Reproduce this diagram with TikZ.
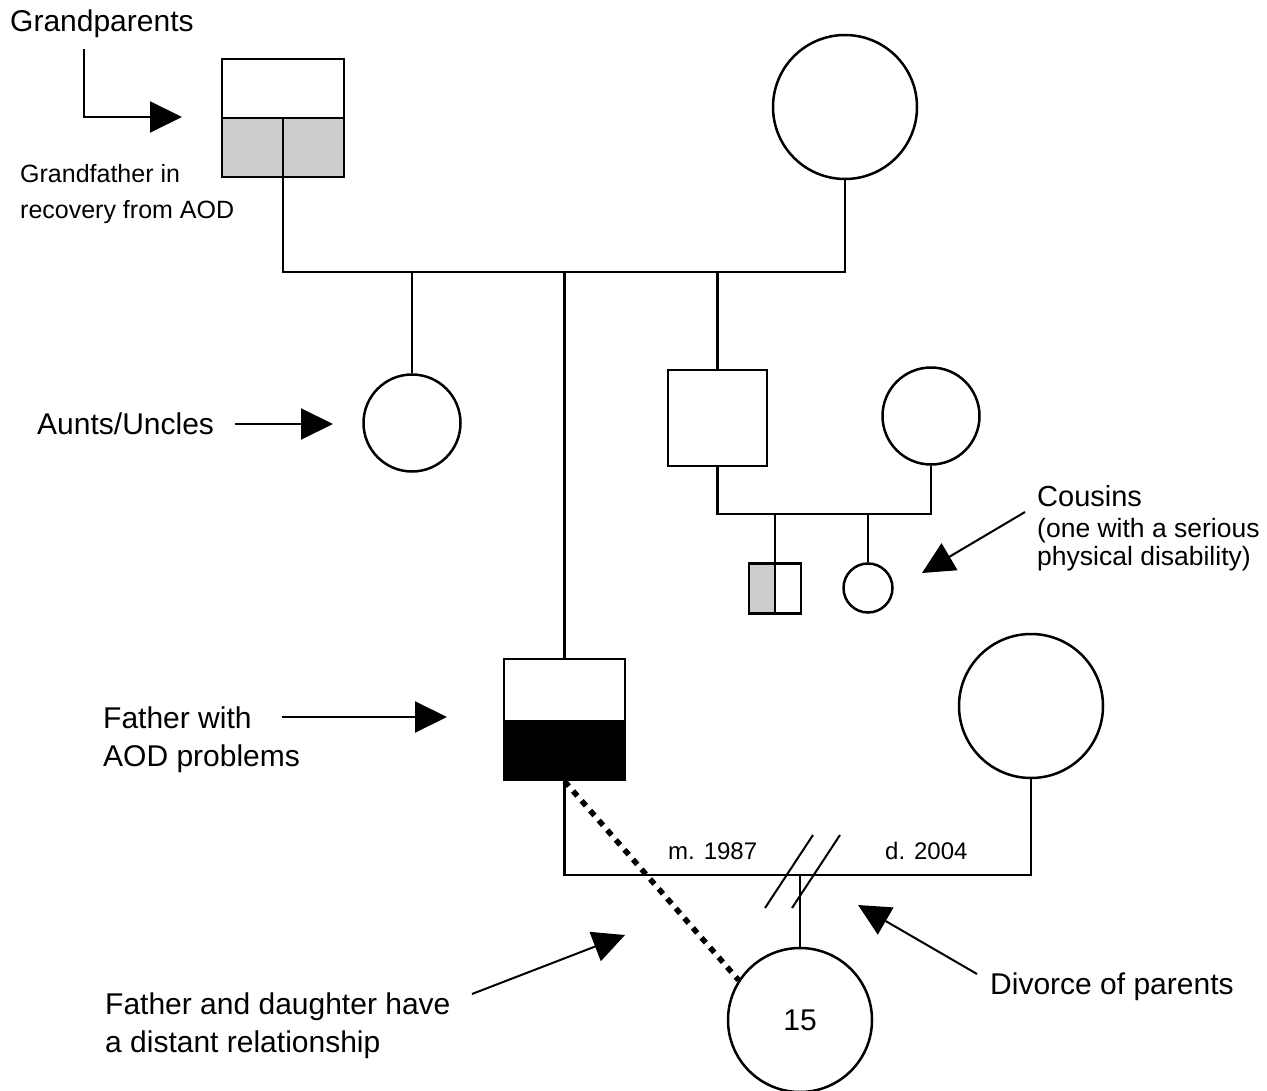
\documentclass[tikz,border=0pt]{standalone}
\usepackage{fontspec}
\setmainfont{Liberation Sans}
\usetikzlibrary{arrows.meta}
\begin{document}
\begin{tikzpicture}[x=1pt,y=-1pt,
  person/.style={draw, line width=2.5pt, inner sep=0pt},
  conn/.style={line width=2.5pt},
  slash/.style={line width=2pt},
  pointer/.style={line width=2pt, -{Triangle[length=32pt,width=31pt]}},
  distant/.style={line width=5.5pt, dash pattern=on 6.5pt off 6.5pt},
  big/.style={anchor=base west, inner sep=0pt, font=\fontsize{30}{36}\selectfont},
  small/.style={anchor=base west, inner sep=0pt, font=\fontsize{25}{30}\selectfont},
  tiny/.style={anchor=base west, inner sep=0pt, font=\fontsize{24}{29}\selectfont}]
\useasboundingbox (0,0) rectangle (1267,1091);

% ---------- persons ----------
\node[person, rectangle, minimum width=122pt, minimum height=118pt,
  path picture={
    \fill[gray!40] (path picture bounding box.west) rectangle (path picture bounding box.south east);
    \draw[line width=2.5pt] (path picture bounding box.west) -- (path picture bounding box.east)
      (path picture bounding box.center) -- (path picture bounding box.south);}]
  (gf) at (283,118) {};
\node[person, circle, minimum size=144pt] (gm) at (845,107) {};
\node[person, circle, minimum size=97pt] (aunt) at (412,423) {};
\node[person, rectangle, minimum width=99pt, minimum height=96pt] (unc) at (717.5,418) {};
\node[person, circle, minimum size=97pt] (uw) at (931,416) {};
\node[person, rectangle, minimum width=52pt, minimum height=50pt,
  path picture={
    \fill[gray!40] (path picture bounding box.north west) rectangle (path picture bounding box.south);
    \draw[line width=2.5pt] (path picture bounding box.north) -- (path picture bounding box.south);}]
  (cb) at (775,588.5) {};
\node[person, circle, minimum size=49pt] (cg) at (868,588) {};
\node[person, rectangle, minimum width=121pt, minimum height=121pt,
  path picture={
    \fill[black] (path picture bounding box.west) rectangle (path picture bounding box.south east);}]
  (fa) at (564.5,719.5) {};
\node[person, circle, minimum size=144pt] (mo) at (1031,706) {};
\node[person, circle, minimum size=144pt, font=\fontsize{30}{36}\selectfont] (dau) at (800,1020) {15};

% ---------- family lines ----------
\coordinate (j1) at (283,272);
\coordinate (j2) at (845,272);
\draw[conn] (gf.south) -- (j1) -- (j2) -- (gm.south);
\draw[conn] (aunt.north) -- (aunt.north |- j1);
\draw[conn] (fa.north) -- (fa.north |- j1);
\draw[conn] (unc.north) -- (unc.north |- j1);

\coordinate (k1) at (717.5,514);
\coordinate (k2) at (931,514);
\draw[conn] (unc.south) -- (k1) -- (k2) -- (uw.south);
\draw[conn] (cb.north) -- (cb.north |- k1);
\draw[conn] (cg.north) -- (cg.north |- k1);

\coordinate (p1) at (564.5,875);
\coordinate (p2) at (1031,875);
\draw[conn] (fa.south) -- (p1) -- (p2) -- (mo.south);
\draw[conn] (dau.north) -- (dau.north |- p1);

\coordinate (s1a) at (765,908); \coordinate (s1b) at (813,835);
\coordinate (s2a) at (792,908); \coordinate (s2b) at (840,835);
\draw[slash] (s1a) -- (s1b);
\draw[slash] (s2a) -- (s2b);

\draw[distant] (fa.south) -- (dau.147);

% ---------- labels ----------
\node[big] (tgp) at (10,32) {Grandparents};
\node[small] (tgf1) at (20,183) {Grandfather in};
\node[small] (tgf2) at (20,219) {recovery from AOD};
\node[big] (taunt) at (37,435) {Aunts/Uncles};
\node[anchor=base west, inner sep=0pt, font=\fontsize{29}{34}\selectfont] (tcous) at (1037,506) {Cousins};
\node[anchor=base west, inner sep=0pt, font=\fontsize{26.5}{30}\selectfont] (tcous2) at (1037,537) {(one with a serious};
\node[anchor=base west, inner sep=0pt, font=\fontsize{26.5}{30}\selectfont] (tcous3) at (1037,565) {physical disability)};
\node[big] (tfa1) at (103,728) {Father with};
\node[big] (tfa2) at (103,766) {AOD problems};
\node[tiny] (tm) at (668,859) {m. 1987};
\node[tiny] (td) at (885,859) {d. 2004};
\node[big] (tdiv) at (990,994) {Divorce of parents};
\node[big] (tfd1) at (105,1014) {Father and daughter have};
\node[big] (tfd2) at (105,1052) {a distant relationship};

% ---------- pointers ----------
\coordinate (ga0) at (84,49);  \coordinate (ga1) at (182,117);
\draw[pointer] (ga0) |- (ga1);
\coordinate (aa0) at (235,424); \coordinate (aa1) at (333,424);
\draw[pointer] (aa0) -- (aa1);
\coordinate (fa0) at (282,717); \coordinate (fa1) at (447,717);
\draw[pointer] (fa0) -- (fa1);
\coordinate (ca0) at (1025,512); \coordinate (ca1) at (922,573);
\draw[pointer] (ca0) -- (ca1);
\coordinate (da0) at (977,974); \coordinate (da1) at (858,905);
\draw[pointer] (da0) -- (da1);
\coordinate (ra0) at (472,994); \coordinate (ra1) at (625,935);
\draw[pointer] (ra0) -- (ra1);
\end{tikzpicture}
\end{document}
